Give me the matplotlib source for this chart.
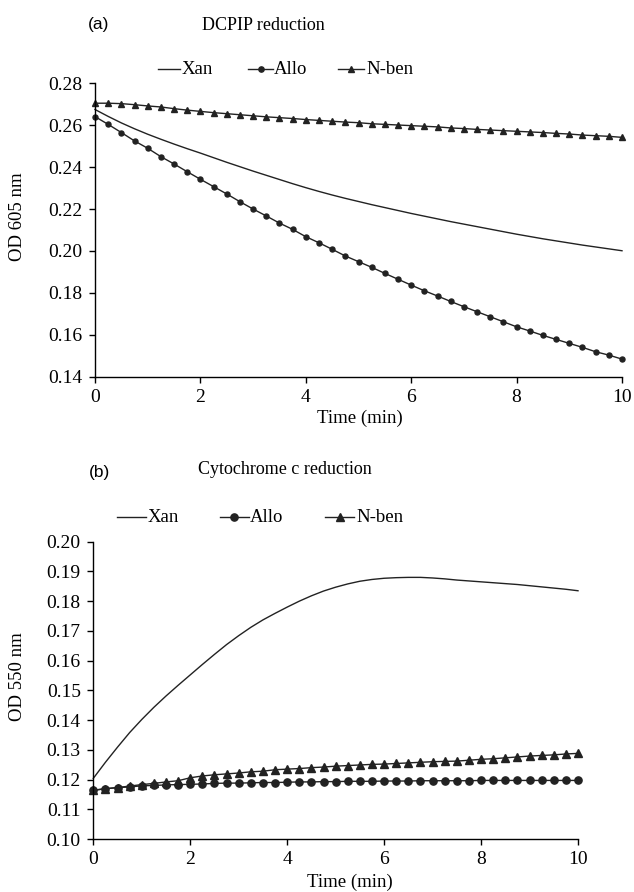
import numpy as np
import matplotlib
matplotlib.use("Agg")
import matplotlib.pyplot as plt
from matplotlib.lines import Line2D

plt.rcParams['font.family'] = ['Liberation Serif', 'DejaVu Serif']

time = [i * 0.25 for i in range(41)]
series_names = ["Xan", "Allo", "N-ben"]

# Panel (a) DCPIP reduction, OD 605 nm
a_xan = [0.2675, 0.2642, 0.2611, 0.2583, 0.2557, 0.2533, 0.2510, 0.2488, 0.2467,
         0.2445, 0.2423, 0.2402, 0.2381, 0.2361, 0.2341, 0.2321, 0.2302, 0.2284,
         0.2267, 0.2251, 0.2236, 0.2221, 0.2207, 0.2193, 0.2179, 0.2166, 0.2153,
         0.2140, 0.2128, 0.2116, 0.2104, 0.2092, 0.2080, 0.2069, 0.2058, 0.2048,
         0.2038, 0.2028, 0.2019, 0.2010, 0.2001]
a_allo = [0.2641, 0.2604, 0.2565, 0.2525, 0.2490, 0.2450, 0.2415, 0.2378, 0.2342,
          0.2307, 0.2272, 0.2235, 0.2200, 0.2167, 0.2133, 0.2103, 0.2068, 0.2039,
          0.2008, 0.1976, 0.1949, 0.1922, 0.1893, 0.1865, 0.1837, 0.1810, 0.1785,
          0.1759, 0.1734, 0.1710, 0.1686, 0.1662, 0.1638, 0.1618, 0.1597, 0.1578,
          0.1559, 0.1540, 0.1519, 0.1503, 0.1484]
a_nben = [0.2705, 0.2705, 0.2703, 0.2698, 0.2692, 0.2687, 0.2679, 0.2672, 0.2666,
          0.2660, 0.2655, 0.2650, 0.2645, 0.2640, 0.2636, 0.2632, 0.2627, 0.2623,
          0.2619, 0.2615, 0.2612, 0.2607, 0.2604, 0.2601, 0.2598, 0.2595, 0.2592,
          0.2587, 0.2584, 0.2580, 0.2577, 0.2574, 0.2571, 0.2568, 0.2565, 0.2561,
          0.2558, 0.2553, 0.2550, 0.2547, 0.2542]

# Panel (b) Cytochrome c reduction, OD 550 nm
b_xan = [0.1204, 0.1258, 0.1309, 0.1358, 0.1402, 0.1443, 0.1481, 0.1517, 0.1552,
         0.1587, 0.1621, 0.1654, 0.1684, 0.1712, 0.1737, 0.1759, 0.1780, 0.1800,
         0.1818, 0.1834, 0.1847, 0.1858, 0.1867, 0.1873, 0.1877, 0.1879, 0.1880,
         0.1880, 0.1878, 0.1875, 0.1871, 0.1868, 0.1865, 0.1862, 0.1859, 0.1856,
         0.1852, 0.1848, 0.1844, 0.1840, 0.1835]
b_allo = [0.1164, 0.1169, 0.1173, 0.1175, 0.1179, 0.1180, 0.1182, 0.1183, 0.1184,
          0.1185, 0.1187, 0.1188, 0.1188, 0.1189, 0.1190, 0.1190, 0.1191, 0.1192,
          0.1192, 0.1193, 0.1193, 0.1194, 0.1194, 0.1194, 0.1195, 0.1195, 0.1195,
          0.1196, 0.1196, 0.1196, 0.1196, 0.1196, 0.1197, 0.1197, 0.1197, 0.1197,
          0.1197, 0.1197, 0.1197, 0.1197, 0.1197]
b_nben = [0.1164, 0.1169, 0.1173, 0.1178, 0.1183, 0.1187, 0.1192, 0.1196, 0.1206,
          0.1212, 0.1216, 0.1219, 0.1222, 0.1226, 0.1228, 0.1233, 0.1235, 0.1237,
          0.1240, 0.1242, 0.1245, 0.1247, 0.1249, 0.1251, 0.1252, 0.1254, 0.1256,
          0.1258, 0.1260, 0.1261, 0.1262, 0.1265, 0.1268, 0.1270, 0.1273, 0.1276,
          0.1279, 0.1281, 0.1283, 0.1286, 0.1288]

a_yticks = [0.14, 0.16, 0.18, 0.20, 0.22, 0.24, 0.26, 0.28]
b_yticks = [0.10, 0.11, 0.12, 0.13, 0.14, 0.15, 0.16, 0.17, 0.18, 0.19, 0.20]
xticks = [0, 2, 4, 6, 8, 10]

W, H = 634, 892
fig = plt.figure(figsize=(W / 100, H / 100), dpi=100)


def px(x0, y0, x1, y1):
    return [x0 / W, 1 - y1 / H, (x1 - x0) / W, (y1 - y0) / H]


def style(ax, yticks):
    for s in ['top', 'right']:
        ax.spines[s].set_visible(False)
    for s in ['left', 'bottom']:
        ax.spines[s].set_linewidth(1.0)
    ax.set_xlim(0, 10)
    ax.set_xticks(xticks)
    ax.set_yticks(yticks)
    ax.set_yticklabels([f"{v:.2f}" for v in yticks])
    ax.tick_params(direction='out', length=4, width=1, labelsize=14)
    ax.tick_params(axis='y', pad=5)
    ax.tick_params(axis='x', pad=5)


fs = 13
ms_a, ms_b = 3.6, 5.2

# Panel (a)
ax1 = fig.add_axes(px(95, 83.3, 622, 376.7))
ax1.plot(time, a_xan, color='#222222', lw=1.0, clip_on=False)
ax1.plot(time, a_allo, color='#222222', lw=1.0, marker='o', ms=ms_a, clip_on=False)
ax1.plot(time, a_nben, color='#222222', lw=1.0, marker='^', ms=ms_a + 0.6, clip_on=False)
ax1.set_ylim(0.14, 0.28)
style(ax1, a_yticks)

# Panel (b)
ax2 = fig.add_axes(px(93.3, 541.7, 578, 839))
ax2.plot(time, b_xan, color='#222222', lw=1.0, clip_on=False)
ax2.plot(time, b_allo, color='#222222', lw=1.0, marker='o', ms=ms_b, clip_on=False)
ax2.plot(time, b_nben, color='#222222', lw=1.0, marker='^', ms=ms_b, clip_on=False)
ax2.set_ylim(0.10, 0.20)
style(ax2, b_yticks)

# Titles and labels
fig.text(99 / W, 1 - 25 / H, "(a)", family='Liberation Sans', fontsize=12.5, ha='center', va='center')
fig.text(263 / W, 1 - 25 / H, "DCPIP reduction", fontsize=fs, ha='center', va='center')
fig.text(99 / W, 1 - 472 / H, "(b)", family='Liberation Sans', fontsize=12.5, ha='center', va='center')
fig.text(285 / W, 1 - 470 / H, "Cytochrome c reduction", fontsize=fs, ha='center', va='center')
fig.text(360 / W, 1 - 418 / H, "Time (min)", fontsize=fs + 0.5, ha='center', va='center')
fig.text(350 / W, 1 - 882 / H, "Time (min)", fontsize=fs + 0.5, ha='center', va='center')
fig.text(18 / W, 1 - 217 / H, "OD 605 nm", fontsize=fs + 0.5, ha='center', va='center', rotation=90)
fig.text(18 / W, 1 - 677 / H, "OD 550 nm", fontsize=fs + 0.5, ha='center', va='center', rotation=90)


def legend(y, entries, ms):
    # entries: (line_x0, line_x1, text_x, marker)
    for (x0, x1, tx, mk), name in zip(entries, series_names):
        fig.add_artist(Line2D([x0 / W, x1 / W], [1 - y / H, 1 - y / H], color='#222222', lw=1.0,
                              transform=fig.transFigure))
        if mk:
            fig.add_artist(Line2D([(x0 + x1) / 2 / W], [1 - y / H], color='#222222', marker=mk, ms=ms,
                                  transform=fig.transFigure))
        fig.text(tx / W, 1 - y / H, name, fontsize=fs + 0.5, ha='left', va='center')


legend(69, [(158, 180, 182, None), (248, 273, 274, 'o'), (338, 364, 366, '^')], 3.8)
legend(517, [(117, 146, 148, None), (220, 249, 250, 'o'), (325, 354, 356, '^')], 5.2)

fig.savefig("out.png", dpi=100)
